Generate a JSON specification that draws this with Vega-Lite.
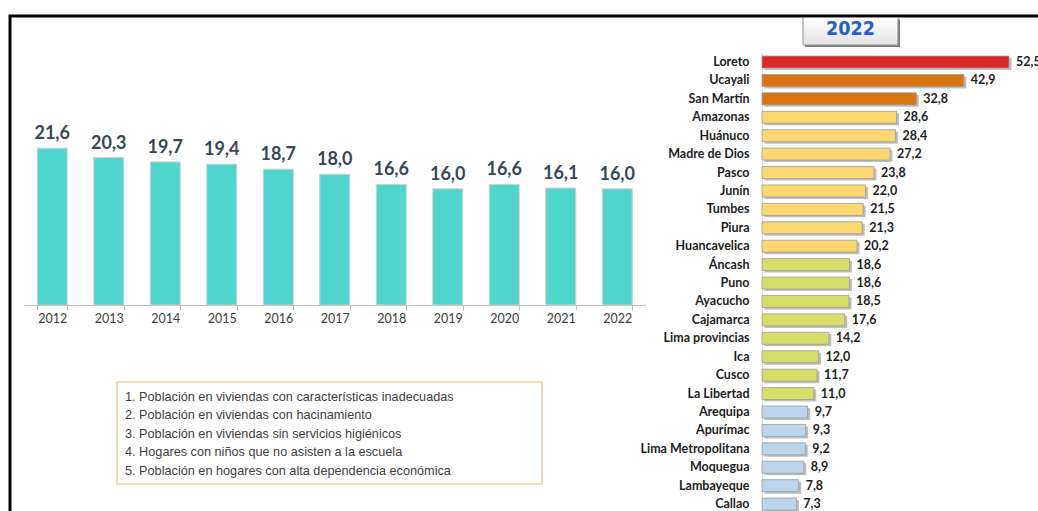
{
  "$schema": "https://vega.github.io/schema/vega-lite/v6.json",
  "width": 1033,
  "height": 500,
  "autosize": {"type": "none"},
  "padding": {"left": 10, "top": 16, "right": -5, "bottom": -5},
  "background": "white",
  "config": {
    "view": {"stroke": "black", "strokeWidth": 3},
    "locale": {"number": {"decimal": ",", "thousands": ".", "grouping": [3], "currency": ["", ""]}},
    "font": "Lato"
  },
  "datasets": {
    "nacional": [
      {"anio": "2012", "valor": 21.6},
      {"anio": "2013", "valor": 20.3},
      {"anio": "2014", "valor": 19.7},
      {"anio": "2015", "valor": 19.4},
      {"anio": "2016", "valor": 18.7},
      {"anio": "2017", "valor": 18.0},
      {"anio": "2018", "valor": 16.6},
      {"anio": "2019", "valor": 16.0},
      {"anio": "2020", "valor": 16.6},
      {"anio": "2021", "valor": 16.1},
      {"anio": "2022", "valor": 16.0}
    ],
    "regiones": [
      {"region": "Loreto", "valor": 52.5, "grupo": "1"},
      {"region": "Ucayali", "valor": 42.9, "grupo": "2"},
      {"region": "San Martín", "valor": 32.8, "grupo": "2"},
      {"region": "Amazonas", "valor": 28.6, "grupo": "3"},
      {"region": "Huánuco", "valor": 28.4, "grupo": "3"},
      {"region": "Madre de Dios", "valor": 27.2, "grupo": "3"},
      {"region": "Pasco", "valor": 23.8, "grupo": "3"},
      {"region": "Junín", "valor": 22.0, "grupo": "3"},
      {"region": "Tumbes", "valor": 21.5, "grupo": "3"},
      {"region": "Piura", "valor": 21.3, "grupo": "3"},
      {"region": "Huancavelica", "valor": 20.2, "grupo": "3"},
      {"region": "Áncash", "valor": 18.6, "grupo": "4"},
      {"region": "Puno", "valor": 18.6, "grupo": "4"},
      {"region": "Ayacucho", "valor": 18.5, "grupo": "4"},
      {"region": "Cajamarca", "valor": 17.6, "grupo": "4"},
      {"region": "Lima provincias", "valor": 14.2, "grupo": "4"},
      {"region": "Ica", "valor": 12.0, "grupo": "4"},
      {"region": "Cusco", "valor": 11.7, "grupo": "4"},
      {"region": "La Libertad", "valor": 11.0, "grupo": "4"},
      {"region": "Arequipa", "valor": 9.7, "grupo": "5"},
      {"region": "Apurímac", "valor": 9.3, "grupo": "5"},
      {"region": "Lima Metropolitana", "valor": 9.2, "grupo": "5"},
      {"region": "Moquegua", "valor": 8.9, "grupo": "5"},
      {"region": "Lambayeque", "valor": 7.8, "grupo": "5"},
      {"region": "Callao", "valor": 7.3, "grupo": "5"}
    ],
    "notas": [
      {"n": 1, "texto": "1. Población en viviendas con características inadecuadas"},
      {"n": 2, "texto": "2. Población en viviendas con hacinamiento"},
      {"n": 3, "texto": "3. Población en viviendas sin servicios higiénicos"},
      {"n": 4, "texto": "4. Hogares con niños que no asisten a la escuela"},
      {"n": 5, "texto": "5. Población en hogares con alta dependencia económica"}
    ],
    "cuadro": [{"caja": "notas"}],
    "titulo": [{"etiqueta": "2022"}]
  },
  "layer": [
    {
      "data": {"name": "nacional"},
      "encoding": {
        "x": {
          "field": "anio", "type": "ordinal", "sort": null,
          "scale": {"range": [14, 635.5], "paddingInner": 0.47, "paddingOuter": 0.235},
          "axis": {
            "orient": "bottom", "offset": -211, "title": null, "tickBand": "extent",
            "tickSize": 5, "tickColor": "#bfbfbf", "domainColor": "#bfbfbf",
            "labelFont": "Lato", "labelFontSize": 12.5, "labelColor": "#404040",
            "labelPadding": 2, "labelAngle": 0, "grid": false
          }
        },
        "y": {
          "field": "valor", "type": "quantitative",
          "scale": {"domain": [0, 39.8], "range": [289, 0], "nice": false, "zero": true},
          "axis": null
        }
      },
      "layer": [
        {"mark": {"type": "bar", "color": "#4fd5ce", "stroke": "#d0d0d0", "strokeWidth": 1}},
        {
          "mark": {"type": "text", "font": "Lato", "fontWeight": "bold", "fontSize": 18, "color": "#37475a", "baseline": "alphabetic", "dy": -9},
          "encoding": {"text": {"field": "valor", "type": "quantitative", "format": ".1f"}}
        }
      ]
    },
    {
      "data": {"name": "regiones"},
      "encoding": {
        "y": {
          "field": "region", "type": "nominal", "sort": null,
          "scale": {"range": [36.8, 497.3], "paddingInner": 0.35, "paddingOuter": 0.175},
          "axis": {
            "orient": "left", "offset": -752, "title": null, "ticks": false, "tickSize": 0,
            "domainColor": "#d9d9d9", "labelPadding": 13, "labelFont": "Lato",
            "labelFontWeight": "bold", "labelFontSize": 12.5, "labelColor": "#1e1e1e",
            "labelLimit": 300, "grid": false
          }
        },
        "x": {
          "field": "valor", "type": "quantitative",
          "scale": {"domain": [0, 50], "range": [752, 987.25], "nice": false},
          "axis": null
        }
      },
      "layer": [
        {"mark": {"type": "bar", "color": "#8a8a8a", "opacity": 0.55, "xOffset": 2.5, "x2Offset": 2, "yOffset": 2}},
        {
          "mark": {"type": "bar", "stroke": "#9a9a9a", "strokeWidth": 0.8},
          "encoding": {
            "color": {
              "field": "grupo", "type": "nominal",
              "scale": {"domain": ["1", "2", "3", "4", "5"], "range": ["#dc2828", "#d97511", "#fdd870", "#d6dd68", "#bcd5ee"]},
              "legend": null
            }
          }
        },
        {
          "mark": {"type": "text", "align": "left", "baseline": "middle", "dx": 7, "font": "Lato", "fontWeight": "bold", "fontSize": 12.5, "color": "#1e1e1e"},
          "encoding": {"text": {"field": "valor", "type": "quantitative", "format": ".1f"}}
        }
      ]
    },
    {
      "layer": [
        {
          "data": {"name": "cuadro"},
          "mark": {"type": "rect", "fill": "white", "stroke": "#e1c46f", "strokeWidth": 1.2},
          "encoding": {
            "x": {"datum": 0, "type": "quantitative", "scale": {"domain": [0, 1], "range": [107, 532], "nice": false}, "axis": null},
            "x2": {"datum": 1},
            "y": {"datum": 0, "type": "quantitative", "scale": {"domain": [0, 1], "range": [366, 468], "nice": false}, "axis": null},
            "y2": {"datum": 1}
          }
        },
        {
          "data": {"name": "notas"},
          "mark": {"type": "text", "align": "left", "baseline": "middle", "dx": 8, "font": "Liberation Sans", "fontSize": 12.7, "color": "#404040"},
          "encoding": {
            "x": {"datum": 0, "type": "quantitative"},
            "y": {"field": "n", "type": "ordinal", "scale": {"type": "point", "range": [380.7, 455], "padding": 0}, "axis": null},
            "text": {"field": "texto", "type": "nominal"}
          }
        }
      ],
      "resolve": {"scale": {"y": "independent"}}
    },
    {
      "data": {"name": "titulo"},
      "encoding": {
        "x": {"datum": 0, "type": "quantitative", "scale": {"domain": [0, 1], "range": [793, 888], "nice": false}, "axis": null},
        "x2": {"datum": 1},
        "y": {"datum": 0, "type": "quantitative", "scale": {"domain": [0, 1], "range": [1.5, 29], "nice": false}, "axis": null},
        "y2": {"datum": 1}
      },
      "layer": [
        {"mark": {"type": "rect", "fill": "#7a7a7a", "xOffset": 2, "x2Offset": 2, "yOffset": 2, "y2Offset": 2}},
        {
          "mark": {
            "type": "rect", "stroke": "#8f8f8f", "strokeWidth": 1,
            "fill": {"gradient": "linear", "x1": 0, "y1": 0, "x2": 0, "y2": 1, "stops": [{"offset": 0, "color": "#ffffff"}, {"offset": 1, "color": "#e2e2e2"}]}
          }
        },
        {
          "mark": {"type": "text", "align": "center", "baseline": "middle", "font": "'Liberation Sans Narrow', 'DejaVu Sans Condensed', sans-serif", "fontWeight": "bold", "fontSize": 19.5, "color": "#2860c8"},
          "encoding": {
            "x": {"datum": 0.5, "type": "quantitative"},
            "y": {"datum": 0.42, "type": "quantitative"},
            "x2": null, "y2": null,
            "text": {"field": "etiqueta", "type": "nominal"}
          }
        }
      ]
    }
  ],
  "resolve": {
    "scale": {"x": "independent", "y": "independent", "color": "independent"},
    "axis": {"x": "independent", "y": "independent"}
  }
}
